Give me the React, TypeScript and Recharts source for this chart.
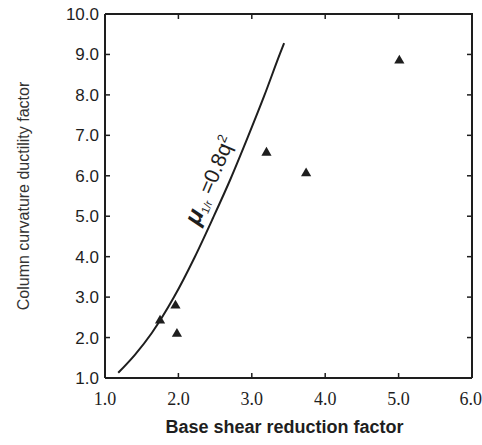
import React from "react";
import {
  ComposedChart,
  XAxis,
  YAxis,
  ZAxis,
  Line,
  Scatter,
  ReferenceDot,
  Label,
} from "recharts";

// Fitted relation mu_1/r = 0.8 q^2, sampled along the drawn curve
const curveQ = [1.18, 1.41, 1.64, 1.94, 2.22, 2.47, 2.71, 2.94, 3.17, 3.38, 3.44];
const curveMu = [1.13, 1.58, 2.12, 3.0, 3.98, 4.95, 5.92, 6.93, 7.98, 9.0, 9.28];

// Analysis results (triangles)
const testQ = [1.75, 1.96, 1.98, 3.2, 3.74, 5.01];
const testMu = [2.42, 2.79, 2.09, 6.57, 6.06, 8.85];

const xTicks = [1, 2, 3, 4, 5, 6];
const yTicks = [1, 2, 3, 4, 5, 6, 7, 8, 9, 10];

const xTitle = "Base shear reduction factor";
const yTitle = "Column curvature ductility factor";

// Where the equation label sits along the curve
const labelAt = { q: 2.43, mu: 5.89 };

const X_MIN = 1;
const X_MAX = 6;
const Y_MIN = 1;
const Y_MAX = 10;

const curveData = curveQ.map((q, i) => ({ q, mu: curveMu[i] }));
const testData = testQ.map((q, i) => ({ q, mu: testMu[i] }));

// Top and right edges of the plot frame, with their inward tick positions
const frameData = [
  { q: X_MIN, mu: Y_MAX },
  { q: X_MAX, mu: Y_MAX },
  { q: X_MAX, mu: Y_MIN },
];
const topTickData = xTicks.slice(1, -1).map((q) => ({ q, mu: Y_MAX }));
const rightTickData = yTicks.slice(1, -1).map((mu) => ({ q: X_MAX, mu }));

const INK = "#1e1e1e";
const SANS = "'Liberation Sans', Arial, sans-serif";
const SERIF = "'Liberation Serif', 'Times New Roman', serif";

const EquationLabel = (props: any) => {
  const { cx, cy } = props;
  return (
    <text
      x={cx}
      y={cy}
      dy="0.35em"
      textAnchor="middle"
      fill={INK}
      fontFamily={SANS}
      fontSize={21}
      transform={`rotate(-67 ${cx} ${cy})`}
    >
      <tspan fontStyle="italic" fontWeight="bold" fontSize={24}>
        μ
      </tspan>
      <tspan fontSize={11} dy={4}>
        1/r
      </tspan>
      <tspan dy={-4}> =0.8q</tspan>
      <tspan fontSize={13} dy={-8}>
        2
      </tspan>
    </text>
  );
};

const YTitle = (props: any) => {
  const { viewBox } = props;
  const x = viewBox.x + 23;
  const y = viewBox.y + viewBox.height / 2;
  return (
    <text
      x={x}
      y={y}
      textAnchor="middle"
      dominantBaseline="central"
      fill="#333"
      fontFamily={SANS}
      fontSize={16}
      transform={`rotate(-90 ${x} ${y})`}
    >
      {yTitle}
    </text>
  );
};

const NoMark = () => <g />;

const TopTick = (props: any) => (
  <line
    x1={props.cx}
    y1={props.cy}
    x2={props.cx}
    y2={props.cy + 5}
    stroke={INK}
    strokeWidth={1.5}
  />
);

const RightTick = (props: any) => (
  <line
    x1={props.cx}
    y1={props.cy}
    x2={props.cx - 5}
    y2={props.cy}
    stroke={INK}
    strokeWidth={1.5}
  />
);

const oneDecimal = (v: number) => v.toFixed(1);

export default function App() {
  return (
    <div style={{ position: "absolute", left: 0, top: 0, background: "#fff" }}>
      <ComposedChart
        width={482}
        height={445}
        margin={{ top: 14, right: 10, bottom: 0, left: 0 }}
      >
        <XAxis
          dataKey="q"
          type="number"
          domain={[X_MIN, X_MAX]}
          ticks={xTicks}
          height={67}
          tickSize={-5}
          tickMargin={19}
          tickFormatter={oneDecimal}
          tick={{ fill: INK, fontSize: 18, fontFamily: SERIF }}
          axisLine={{ stroke: INK, strokeWidth: 2 }}
          tickLine={{ stroke: INK, strokeWidth: 1.5 }}
        >
          <Label
            value={xTitle}
            position="insideBottom"
            offset={12}
            fill={INK}
            fontFamily={SANS}
            fontSize={18}
            fontWeight="bold"
            dx={-4}
          />
        </XAxis>
        <YAxis
          dataKey="mu"
          type="number"
          domain={[Y_MIN, Y_MAX]}
          ticks={yTicks}
          width={105}
          tickSize={-5}
          tickMargin={11}
          tickFormatter={oneDecimal}
          tick={{ fill: INK, fontSize: 17, fontFamily: SANS }}
          axisLine={{ stroke: INK, strokeWidth: 2 }}
          tickLine={{ stroke: INK, strokeWidth: 1.5 }}
        >
          <Label content={<YTitle />} />
        </YAxis>
        <ZAxis range={[45, 45]} />

        {/* frame: top and right edges */}
        <Scatter
          data={frameData}
          dataKey="mu"
          line={{ stroke: INK, strokeWidth: 2 }}
          lineType="joint"
          shape={NoMark}
          isAnimationActive={false}
        />
        <Scatter
          data={topTickData}
          dataKey="mu"
          shape={TopTick}
          isAnimationActive={false}
        />
        <Scatter
          data={rightTickData}
          dataKey="mu"
          shape={RightTick}
          isAnimationActive={false}
        />

        <Line
          data={curveData}
          dataKey="mu"
          type="monotone"
          stroke={INK}
          strokeWidth={2}
          dot={false}
          activeDot={false}
          isAnimationActive={false}
        />
        <Scatter
          data={testData}
          dataKey="mu"
          shape="triangle"
          fill={INK}
          isAnimationActive={false}
        />
        <ReferenceDot
          x={labelAt.q}
          y={labelAt.mu}
          r={0}
          shape={<EquationLabel />}
        />
      </ComposedChart>
    </div>
  );
}
